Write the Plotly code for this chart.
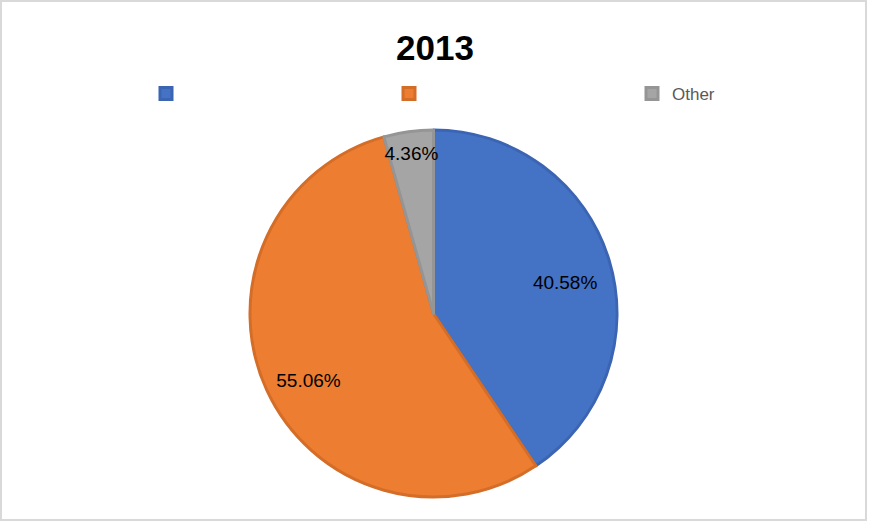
import plotly.graph_objects as go

labels = [" ", "  ", "Other"]
values = [40.58, 55.06, 4.36]
colors = ["#4472C4", "#ED7D31", "#A5A5A5"]
edge_colors = ["#3B65B3", "#D46D27", "#959595"]

W, H = 870, 525
# pie box in pixels
px0, px1, py0, py1 = 250, 617, 130, 497
label_dy = 9  # label ring sits slightly lower, as in the reference

def fx(p):
    return p / W

def fy(p):
    return (H - p) / H

domain = dict(x=[fx(px0), fx(px1)], y=[fy(py1), fy(py0)])
label_domain = dict(x=[fx(px0), fx(px1)], y=[fy(py1 + label_dy), fy(py0 + label_dy)])

# full pie carrying colours, legend and the small-slice label
pie_main = go.Pie(
    labels=labels,
    values=values,
    sort=False,
    direction="clockwise",
    rotation=0,
    domain=domain,
    marker=dict(colors=colors, line=dict(color=edge_colors, width=3)),
    texttemplate="%{value:.2f}%",
    textposition=["none", "none", "inside"],
    insidetextorientation="horizontal",
    textfont=dict(family="Liberation Sans", size=19, color="#000000"),
    hoverinfo="label+value",
)

# transparent ring over it that places the big-slice labels at 3/4 radius
pie_labels = go.Pie(
    labels=labels,
    values=values,
    sort=False,
    direction="clockwise",
    rotation=0,
    domain=label_domain,
    hole=0.5,
    marker=dict(colors=["rgba(0,0,0,0)"] * 3, line=dict(width=0)),
    texttemplate="%{value:.2f}%",
    textposition=["inside", "inside", "none"],
    insidetextorientation="horizontal",
    textfont=dict(family="Liberation Sans", size=19, color="#000000"),
    showlegend=False,
    hoverinfo="skip",
)

fig = go.Figure([pie_main, pie_labels])

fig.update_layout(
    width=W, height=H,
    margin=dict(l=0, r=0, t=0, b=0, autoexpand=False),
    paper_bgcolor="white",
    uniformtext=dict(minsize=19, mode="show"),
    title=dict(text="<b>2013</b>", x=0.5, xanchor="center", y=fy(47.5), yanchor="middle",
               font=dict(family="Liberation Sans", size=35, color="#000000")),
    showlegend=True,
    legend=dict(orientation="h", x=fx(146), xanchor="left", y=fy(94), yanchor="middle",
                entrywidth=198, entrywidthmode="pixels",
                font=dict(family="Liberation Sans", size=17, color="#595959"),
                bgcolor="rgba(0,0,0,0)"),
    shapes=[dict(type="rect", xref="paper", yref="paper",
                 x0=fx(1), x1=fx(866), y0=fy(520), y1=fy(1),
                 line=dict(color="#D9D9D9", width=2), layer="below")],
)

fig.write_html("out.html",
               config={"displayModeBar": False},
               post_script="document.body.style.margin='0';document.body.style.overflow='hidden';")
